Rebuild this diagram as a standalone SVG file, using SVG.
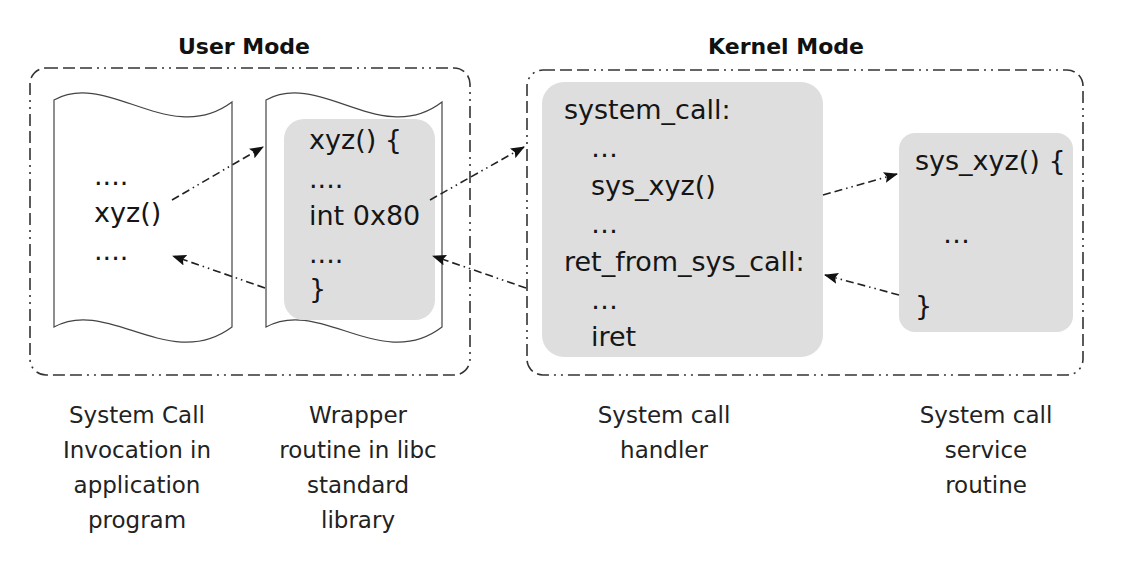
<svg xmlns="http://www.w3.org/2000/svg" width="1124" height="566" viewBox="0 0 1124 566">
<defs>
<marker id="ah" viewBox="0 0 14 11" refX="13" refY="5.5" markerWidth="14" markerHeight="11" markerUnits="userSpaceOnUse" orient="auto">
<path d="M0,0 L14,5.5 L0,11 L2.5,5.5 Z" fill="#111"/>
</marker>
</defs>
<style>
.mode{fill:none;stroke:#333;stroke-width:1.6;stroke-dasharray:12 5 12 5 12 5 2 5 2 5}
.doc{fill:#fff;stroke:#444;stroke-width:1.2}
.gray{fill:#dedede;stroke:none}
.code{font-family:"DejaVu Sans",sans-serif;font-size:27px;fill:#151515}
.lbl{font-family:"DejaVu Sans",sans-serif;font-size:23px;fill:#222;text-anchor:middle}
.ttl{font-family:"DejaVu Sans",sans-serif;font-size:22px;font-weight:bold;fill:#111;text-anchor:middle}
.conn{fill:none;stroke:#222;stroke-width:1.6;stroke-dasharray:8 4 8 4 1.5 4 1.5 4;marker-end:url(#ah)}
</style>
<rect width="1124" height="566" fill="#fff"/>

<g id="user-mode">
<rect class="mode" x="30" y="68" width="440" height="307" rx="16"/>
<text class="ttl" x="244" y="54">User Mode</text>
</g>

<g id="kernel-mode">
<rect class="mode" x="527" y="70" width="556" height="305" rx="16"/>
<text class="ttl" x="786" y="54">Kernel Mode</text>
</g>

<g id="invocation">
<path class="doc" d="M54,100 C108,70 170,148 232,102 L232,327 C170,373 108,297 54,327 Z"/>
<text class="code" x="94" y="185">....</text>
<text class="code" x="94" y="222">xyz()</text>
<text class="code" x="94" y="260">....</text>
<text class="lbl"><tspan x="137" y="423">System Call</tspan><tspan x="137" y="458">Invocation in</tspan><tspan x="137" y="493">application</tspan><tspan x="137" y="528">program</tspan></text>
</g>

<g id="wrapper">
<path class="doc" d="M266,100 C320,70 382,148 442,102 L442,327 C382,373 320,297 266,327 Z"/>
<rect class="gray" x="284" y="119" width="151" height="201" rx="20"/>
<text class="code" x="309" y="149">xyz() {</text>
<text class="code" x="309" y="188">....</text>
<text class="code" x="309" y="225">int 0x80</text>
<text class="code" x="309" y="263">....</text>
<text class="code" x="309" y="298">}</text>
<text class="lbl"><tspan x="358" y="423">Wrapper</tspan><tspan x="358" y="458">routine in libc</tspan><tspan x="358" y="493">standard</tspan><tspan x="358" y="528">library</tspan></text>
</g>

<g id="handler">
<rect class="gray" x="542" y="82" width="281" height="275" rx="22"/>
<text class="code" x="564" y="119">system_call:</text>
<text class="code" x="591" y="157">…</text>
<text class="code" x="591" y="195">sys_xyz()</text>
<text class="code" x="591" y="233">…</text>
<text class="code" x="564" y="271">ret_from_sys_call:</text>
<text class="code" x="591" y="309">…</text>
<text class="code" x="591" y="346">iret</text>
<text class="lbl"><tspan x="664" y="423">System call</tspan><tspan x="664" y="458">handler</tspan></text>
</g>

<g id="service">
<rect class="gray" x="899" y="133" width="174" height="199" rx="16"/>
<text class="code" x="915" y="170">sys_xyz() {</text>
<text class="code" x="943" y="243">…</text>
<text class="code" x="915" y="315">}</text>
<text class="lbl"><tspan x="986" y="423">System call</tspan><tspan x="986" y="458">service</tspan><tspan x="986" y="493">routine</tspan></text>
</g>

<g id="connectors">
<path class="conn" d="M172,200 L263,147"/>
<path class="conn" d="M265,288 L173,256"/>
<path class="conn" d="M430,200 L524,147"/>
<path class="conn" d="M526,288 L433,256"/>
<path class="conn" d="M823,195 L897,174"/>
<path class="conn" d="M899,295 L825,275"/>
</g>
</svg>
